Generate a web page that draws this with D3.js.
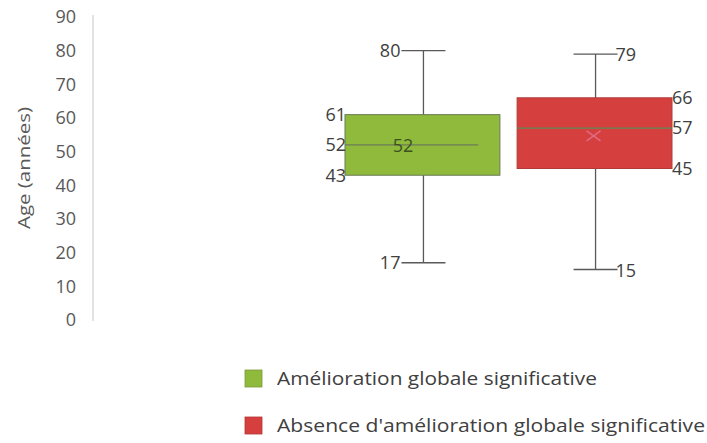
<!DOCTYPE html>
<html><head><meta charset="utf-8">
<script src="https://cdn.jsdelivr.net/npm/d3@7"></script>
<style>body{margin:0;background:#fff}svg{display:block}text{font-family:"Open Sans",Lato,sans-serif}</style>
</head><body><svg width="707" height="443"></svg>
<script>
const categories = ["Amélioration globale significative", "Absence d'amélioration globale significative"];
const mins = [17, 15];
const q1s = [43, 45];
const medians = [52, 57];
const q3s = [61, 66];
const maxs = [80, 79];
const means = [52, 55];
const colors = ["#8fba3c", "#d5403f"];
const yTicks = [0,10,20,30,40,50,60,70,80,90];

const svg = d3.select("svg");
const y = d3.scaleLinear().domain([0,90]).range([320,17]);
const x = d3.scaleBand().domain(categories).range([345,672]).paddingInner(0.1);

// axis
const ax = svg.append("g").attr("transform","translate(93,0)")
  .call(d3.axisLeft(y).tickValues(yTicks).tickSize(0).tickPadding(17).tickFormat(d3.format("d")));
ax.select(".domain").attr("stroke","#d9d9d9").attr("stroke-width",1.5).attr("d","M0,15V321");
ax.selectAll("text").attr("fill","#595959").style("font-size","18px").style("font-family","'Open Sans',sans-serif");

svg.append("text").attr("transform","translate(24,168) rotate(-90)")
  .attr("text-anchor","middle").attr("dy","0.35em").attr("fill","#595959").style("font-size","17px")
  .attr("textLength",122).attr("lengthAdjust","spacingAndGlyphs").text("Age (années)");

const data = categories.map((c,i)=>({c,i,min:mins[i],q1:q1s[i],med:medians[i],q3:q3s[i],max:maxs[i],mean:means[i],col:colors[i]}));
const g = svg.selectAll(".box").data(data).enter().append("g");
const cx = d => x(d.c) + x.bandwidth()/2 + 1;
const lineCol = "#595959";
// whiskers
g.append("line").attr("x1",cx).attr("x2",cx).attr("y1",d=>y(d.max)).attr("y2",d=>y(d.min)).attr("stroke",lineCol).attr("stroke-width",1.3);
g.append("line").attr("x1",d=>cx(d)-22).attr("x2",d=>cx(d)+22).attr("y1",d=>y(d.max)).attr("y2",d=>y(d.max)).attr("stroke",lineCol).attr("stroke-width",1.3);
g.append("line").attr("x1",d=>cx(d)-22).attr("x2",d=>cx(d)+22).attr("y1",d=>y(d.min)).attr("y2",d=>y(d.min)).attr("stroke",lineCol).attr("stroke-width",1.3);
// box
g.append("rect").attr("x",d=>x(d.c)).attr("width",x.bandwidth())
  .attr("y",d=>y(d.q3)).attr("height",d=>y(d.q1)-y(d.q3))
  .attr("fill",d=>d.col).attr("stroke",d=>d.i===0?"#6b7a55":"#b03a3a").attr("stroke-width",1);
// median
g.append("line").attr("x1",d=>x(d.c)).attr("x2",d=>d.i===0? x(d.c)+x.bandwidth()*0.86 : x(d.c)+x.bandwidth())
  .attr("y1",d=>y(d.med)).attr("y2",d=>y(d.med)).attr("stroke",d=>d.i===0?"#6d7b5a":"#5c8a58").attr("stroke-width",1.3);
// mean marker (second box)
const m = data[1];
const mx = cx(m)-2, my = y(m.mean)+1;
svg.append("path").attr("d",`M${mx-7},${my-5}L${mx+7},${my+5}M${mx-7},${my+5}L${mx+7},${my-5}`)
  .attr("stroke","#e06a82").attr("stroke-width",1.5).attr("fill","none");

const lab = (xx,yy,t,anchor)=>svg.append("text").attr("x",xx).attr("y",yy).attr("dy","0.35em")
  .attr("text-anchor",anchor).attr("fill","#404040").style("font-size","18px").text(t);
// labels box 1 (left side)
const d0 = data[0];
lab(cx(d0)-23, y(d0.max), d0.max, "end");
lab(cx(d0)-23, y(d0.min), d0.min, "end");
lab(x(d0.c)+1, y(d0.q3), d0.q3, "end");
lab(x(d0.c)+1, y(d0.med), d0.med, "end");
lab(x(d0.c)+1, y(d0.q1), d0.q1, "end");
lab(x(d0.c)+58, y(d0.mean)+1, d0.mean, "middle").attr("fill","#3d5020");
// labels box 2 (right side)
lab(cx(m)+20, y(m.max)+1, m.max, "start");
lab(cx(m)+20, y(m.min)+1, m.min, "start");
lab(x(m.c)+x.bandwidth(), y(m.q3), m.q3, "start");
lab(x(m.c)+x.bandwidth(), y(m.med), m.med, "start");
lab(x(m.c)+x.bandwidth(), y(m.q1), m.q1, "start");

// legend
const legendWidths = [320, 428];
const lg = svg.selectAll(".lg").data(data).enter().append("g")
  .attr("transform",(d,i)=>`translate(245,${370+i*47})`);
lg.append("rect").attr("width",17).attr("height",17).attr("fill",d=>d.col).attr("stroke",d=>d.i===0?"#7a9a3a":"#b53535").attr("stroke-width",0.8);
lg.append("text").attr("x",32).attr("y",9).attr("dy","0.35em").attr("fill","#404040").style("font-size","18px")
  .attr("textLength",(d,i)=>legendWidths[i]).attr("lengthAdjust","spacingAndGlyphs").text(d=>d.c);
</script></body></html>
